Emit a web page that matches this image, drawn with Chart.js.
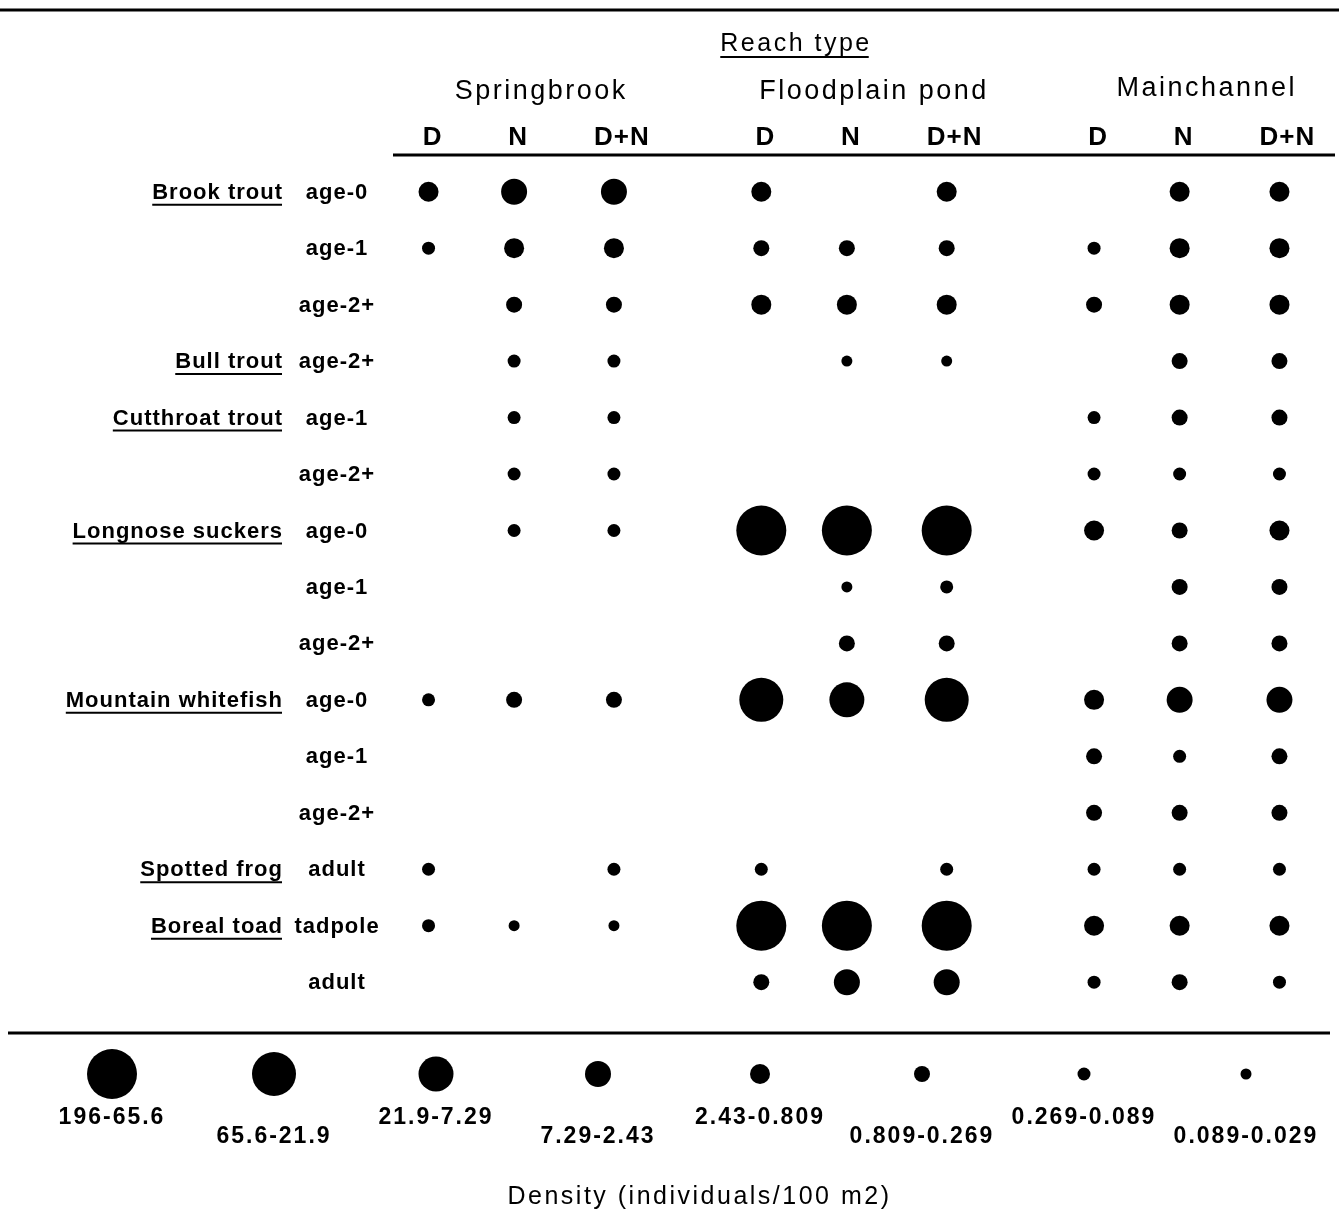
<!DOCTYPE html>
<html>
<head>
<meta charset="utf-8">
<script src="https://cdn.jsdelivr.net/npm/chart.js@4.4.1/dist/chart.umd.min.js"></script>
<style>
  html,body{margin:0;padding:0;background:#fff;overflow:hidden;}
  #wrap{width:1339px;height:1214px;position:relative;}
</style>
</head>
<body>
<div id="wrap"><canvas id="chart"></canvas></div>
<script>
// Spalten / Gruppen
const groups = ["Springbrook", "Floodplain pond", "Mainchannel"];
const columns = ["D", "N", "D+N", "D", "N", "D+N", "D", "N", "D+N"];

// Zeilen
const species = ["Brook trout", "", "", "Bull trout", "Cutthroat trout", "", "Longnose suckers", "", "",
                 "Mountain whitefish", "", "", "Spotted frog", "Boreal toad", ""];
const stages = ["age-0", "age-1", "age-2+", "age-2+", "age-1", "age-2+", "age-0", "age-1", "age-2+",
                "age-0", "age-1", "age-2+", "adult", "tadpole", "adult"];

// Dichteklasse je Zeile (1 = 196-65.6 ... 8 = 0.089-0.029), null = kein Nachweis
const sbD  = [5, 7, null, null, null, null, null, null, null, 7, null, null, 7, 7, null];
const sbN  = [4, 5, 6, 7, 7, 7, 7, null, null, 6, null, null, null, 8, null];
const sbDN = [4, 5, 6, 7, 7, 7, 7, null, null, 6, null, null, 7, 8, null];
const fpD  = [5, 6, 5, null, null, null, 1, null, null, 2, null, null, 7, 1, 6];
const fpN  = [null, 6, 5, 8, null, null, 1, 8, 6, 3, null, null, null, 1, 4];
const fpDN = [5, 6, 5, 8, null, null, 1, 7, 6, 2, null, null, 7, 1, 4];
const mcD  = [null, 7, 6, null, 7, 7, 5, null, null, 5, 6, 6, 7, 5, 7];
const mcN  = [5, 5, 5, 6, 6, 7, 6, 6, 6, 4, 7, 6, 7, 5, 6];
const mcDN = [5, 5, 5, 6, 6, 7, 5, 6, 6, 4, 6, 6, 7, 5, 7];
const cells = [sbD, sbN, sbDN, fpD, fpN, fpDN, mcD, mcN, mcDN];

// Legende
const classLabels = ["196-65.6", "65.6-21.9", "21.9-7.29", "7.29-2.43",
                     "2.43-0.809", "0.809-0.269", "0.269-0.089", "0.089-0.029"];
const legendTitle = "Density (individuals/100 m2)";

// Radius je Klasse (px)
const classRadius = [25, 22, 17.5, 13, 10, 8, 6.5, 5.5];
const FONT = "'Liberation Sans', Arial, Helvetica, sans-serif";

// Spaltenposition: D+N ist breiter, daher etwas mehr Abstand; 7 Einheiten je Gruppe
const inGroup = [0, 1.8, 3.9];
const colPos = columns.map((_, i) => Math.floor(i / 3) * 7 + inGroup[i % 3]);

const points = [];
cells.forEach((col, c) => {
  col.forEach((k, r) => {
    if (k) points.push({x: colPos[c], y: r, r: classRadius[k - 1]});
  });
});

function txt(ctx, s, x, y, font, align, spacing) {
  ctx.font = font;
  ctx.letterSpacing = (spacing || 0) + "px";
  ctx.textAlign = align;
  ctx.textBaseline = "middle";
  ctx.fillText(s, x, y);
  return ctx.measureText(s).width;
}

function hline(ctx, x1, x2, y, w) {
  ctx.beginPath();
  ctx.lineWidth = w;
  ctx.moveTo(x1, y);
  ctx.lineTo(x2, y);
  ctx.stroke();
}

const decor = {
  id: "decor",
  afterDatasetsDraw(chart) {
    const {ctx, scales: {x, y}, chartArea: ca, width} = chart;
    ctx.save();
    ctx.fillStyle = "#000";
    ctx.strokeStyle = "#000";

    // Linien oben
    hline(ctx, 0, width, 10, 3);
    hline(ctx, ca.left + 12, width - 4, ca.top, 3);

    // Reach type
    const cx = (x.getPixelForValue(colPos[0]) + x.getPixelForValue(colPos[8])) / 2 - 58;
    let w = txt(ctx, "Reach type", cx, 44, "25px " + FONT, "center", 2.5);
    hline(ctx, cx - w / 2, cx + w / 2 - 3, 57, 2);

    // Gruppen
    groups.forEach((g, i) => {
      const a = x.getPixelForValue(colPos[i * 3]), b = x.getPixelForValue(colPos[i * 3 + 2]);
      txt(ctx, g, (a + b) / 2 + 20, i === 2 ? 89 : 92, "27px " + FONT, "center", 2.5);
    });

    // Spaltenköpfe
    columns.forEach((c, i) => {
      txt(ctx, c, x.getPixelForValue(colPos[i]) + (c === "D+N" ? 8 : 4), 138, "bold 26px " + FONT, "center", 1);
    });

    // Zeilenbeschriftung
    stages.forEach((s, i) => {
      const py = y.getPixelForValue(i) + 1;
      txt(ctx, s, 337, py, "bold 22px " + FONT, "center", 1);
      if (species[i]) {
        const sw = txt(ctx, species[i], 283, py, "bold 22px " + FONT, "right", 1);
        hline(ctx, 283 - sw, 283 - 1, py + 12, 2);
      }
    });

    // Linie unten
    hline(ctx, 8, width - 9, ca.bottom, 3);

    // Legende
    const step = 162;
    classLabels.forEach((l, i) => {
      const lx = 112 + i * step;
      ctx.beginPath();
      ctx.arc(lx, ca.bottom + 41, classRadius[i], 0, Math.PI * 2);
      ctx.fill();
      txt(ctx, l, lx, ca.bottom + (i % 2 ? 104 : 85), "bold 23px " + FONT, "center", 2);
    });
    txt(ctx, legendTitle, width / 2 + 30, ca.bottom + 164, "25px " + FONT, "center", 2.5);

    ctx.restore();
  }
};

new Chart(document.getElementById("chart"), {
  type: "bubble",
  data: {
    datasets: [{
      label: "Density",
      data: points,
      backgroundColor: "#000",
      borderColor: "#000",
      borderWidth: 0,
      hoverRadius: 0
    }]
  },
  options: {
    responsive: true,
    maintainAspectRatio: false,
    animation: false,
    events: [],
    layout: {autoPadding: false, padding: {left: 381, right: 12, top: 155, bottom: 181}},
    plugins: {legend: {display: false}, tooltip: {enabled: false}},
    scales: {
      x: {type: "linear", min: -1, max: 18.9, display: false},
      y: {type: "linear", min: -0.65, max: 14.9, reverse: true, display: false}
    }
  },
  plugins: [decor]
});
</script>
</body>
</html>
